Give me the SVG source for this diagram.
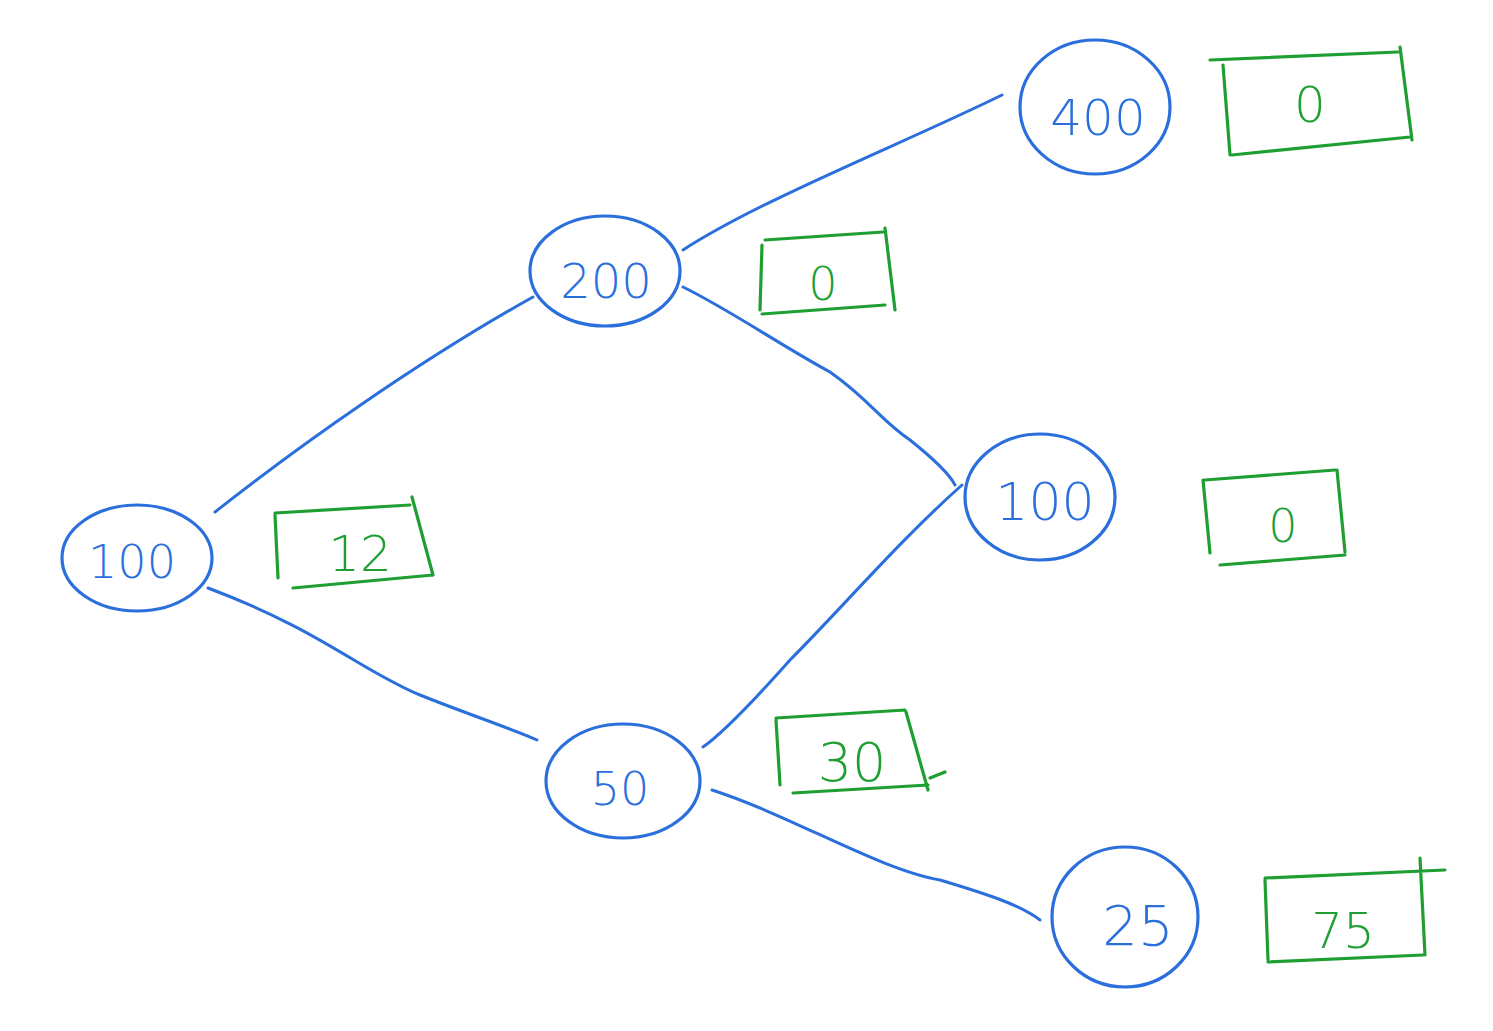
<svg xmlns="http://www.w3.org/2000/svg" width="1493" height="1031" viewBox="0 0 1493 1031">
<style>
.n{fill:none;stroke:#2b6fdc;stroke-width:3.2;stroke-linecap:round}
.e{fill:none;stroke:#2b6fdc;stroke-width:3;stroke-linecap:round}
.b{fill:none;stroke:#1f9e32;stroke-width:3.2;stroke-linecap:round;stroke-linejoin:round}
.t{font-family:"DejaVu Sans","Liberation Sans",sans-serif;font-weight:300;fill:#2b6fdc;text-anchor:middle}
.g{font-family:"DejaVu Sans","Liberation Sans",sans-serif;font-weight:300;fill:#1f9e32;text-anchor:middle}
</style>
<rect width="1493" height="1031" fill="#fff"/>
<g id="connectors">
<path class="e" d="M215,512 C300,445 420,360 533,297"/>
<path class="e" d="M208,588 C320,630 360,670 420,695 C470,715 510,728 537,740"/>
<path class="e" d="M683,250 C760,200 900,145 1002,95"/>
<path class="e" d="M683,287 C730,310 780,345 830,372 C870,400 880,420 910,440 C935,460 950,475 955,485"/>
<path class="e" d="M962,485 C900,540 840,610 790,660 C750,705 720,735 703,747"/>
<path class="e" d="M712,790 C790,815 880,870 940,880 C990,895 1020,905 1040,920"/>
</g>
<g id="n100a"><ellipse class="n" cx="137" cy="558" rx="75" ry="53"/><text class="t" x="132" y="578" font-size="46">100</text></g>
<g id="n200"><ellipse class="n" cx="605" cy="271" rx="75" ry="55"/><text class="t" x="606" y="298" font-size="48">200</text></g>
<g id="n50"><ellipse class="n" cx="623" cy="781" rx="77" ry="57"/><text class="t" x="620" y="805" font-size="46">50</text></g>
<g id="n400"><ellipse class="n" cx="1095" cy="107" rx="75" ry="67"/><text class="t" x="1098" y="135" font-size="50">400</text></g>
<g id="n100b"><ellipse class="n" cx="1040" cy="497" rx="75" ry="63"/><text class="t" x="1045" y="520" font-size="52">100</text></g>
<g id="n25"><ellipse class="n" cx="1125" cy="917" rx="73" ry="70"/><text class="t" x="1138" y="945" font-size="56">25</text></g>
<g id="b12"><path class="b" d="M275,515 L278,578 M275,513 L410,505 M412,497 L433,575 M293,588 L433,575"/><text class="g" x="360" y="571" font-size="50">12</text></g>
<g id="b0a"><path class="b" d="M762,245 L760,310 M765,240 L883,232 M885,228 L895,310 M762,314 L885,305"/><text class="g" x="823" y="300" font-size="46">0</text></g>
<g id="b0b"><path class="b" d="M1223,65 L1230,155 M1210,60 L1398,52 M1400,47 L1412,140 M1232,155 L1410,137"/><text class="g" x="1310" y="122" font-size="50">0</text></g>
<g id="b0c"><path class="b" d="M1203,480 L1210,553 M1205,480 L1335,470 M1337,470 L1345,552 M1220,565 L1345,555"/><text class="g" x="1283" y="542" font-size="46">0</text></g>
<g id="b30"><path class="b" d="M776,720 L780,785 M776,718 L905,710 M906,712 L928,790 M793,793 L928,785 M930,778 L945,772"/><text class="g" x="852" y="781" font-size="54">30</text></g>
<g id="b75"><path class="b" d="M1265,880 L1268,960 M1265,878 L1445,870 M1420,858 L1425,955 M1268,962 L1423,955"/><text class="g" x="1343" y="948" font-size="50">75</text></g>
</svg>
